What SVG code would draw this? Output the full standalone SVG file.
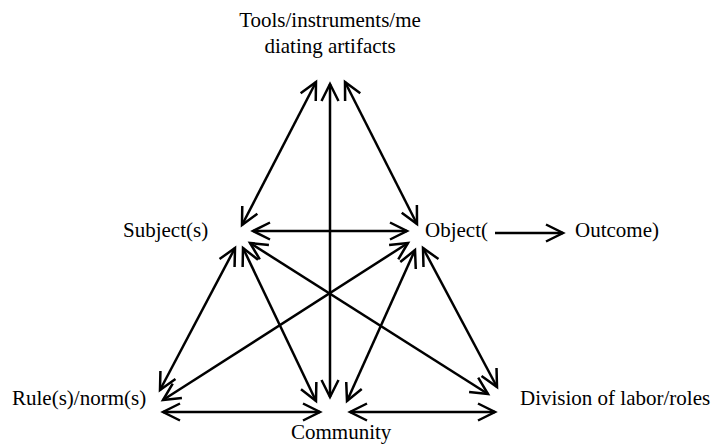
<svg xmlns="http://www.w3.org/2000/svg" width="715" height="445" viewBox="0 0 715 445">
<style>
text{font-family:"Liberation Serif","Times New Roman","DejaVu Serif",serif;font-size:21px;fill:#000}
.c line{stroke:#000;stroke-width:2.5;fill:none;marker-end:url(#ah)}
.c line.b{marker-start:url(#ah)}
</style>
<defs>
<marker id="ah" markerUnits="userSpaceOnUse" markerWidth="26" markerHeight="26" viewBox="-22 -13 26 26" refX="0" refY="0" orient="auto-start-reverse">
<path d="M-17,-8.5 L0,0 L-17,8.5" fill="none" stroke="#000" stroke-width="2.5"/>
</marker>
</defs>
<rect width="715" height="445" fill="#fff"/>
<g class="c" id="connectors">
<line class="b" x1="316" y1="82" x2="242" y2="225"/>
<line class="b" x1="330" y1="84" x2="330" y2="397"/>
<line class="b" x1="345" y1="82" x2="417" y2="224"/>
<line class="b" x1="253" y1="231" x2="407" y2="231"/>
<line class="b" x1="235" y1="248" x2="160" y2="390"/>
<line class="b" x1="243" y1="248" x2="316" y2="401"/>
<line class="b" x1="250" y1="243" x2="488" y2="394"/>
<line class="b" x1="408" y1="243" x2="163" y2="400"/>
<line class="b" x1="415" y1="250" x2="347" y2="401"/>
<line class="b" x1="423" y1="248" x2="497" y2="387"/>
<line class="b" x1="163" y1="412" x2="320" y2="412"/>
<line class="b" x1="350" y1="412" x2="495" y2="412"/>
<line x1="495" y1="233" x2="563" y2="233"/>
</g>
<g id="tools"><text font-family="Liberation Serif, serif" x="330" y="27" text-anchor="middle">Tools/instruments/me</text><text font-family="Liberation Serif, serif" x="330" y="53" text-anchor="middle">diating artifacts</text></g>
<g id="subject"><text font-family="Liberation Serif, serif" x="123" y="237">Subject(s)</text></g>
<g id="object"><text font-family="Liberation Serif, serif" x="425" y="237">Object(</text></g>
<g id="outcome"><text font-family="Liberation Serif, serif" x="575" y="237">Outcome)</text></g>
<g id="rules"><text font-family="Liberation Serif, serif" x="12" y="405">Rule(s)/norm(s)</text></g>
<g id="community"><text font-family="Liberation Serif, serif" x="291" y="439">Community</text></g>
<g id="division"><text font-family="Liberation Serif, serif" x="520" y="405">Division of labor/roles</text></g>
</svg>
